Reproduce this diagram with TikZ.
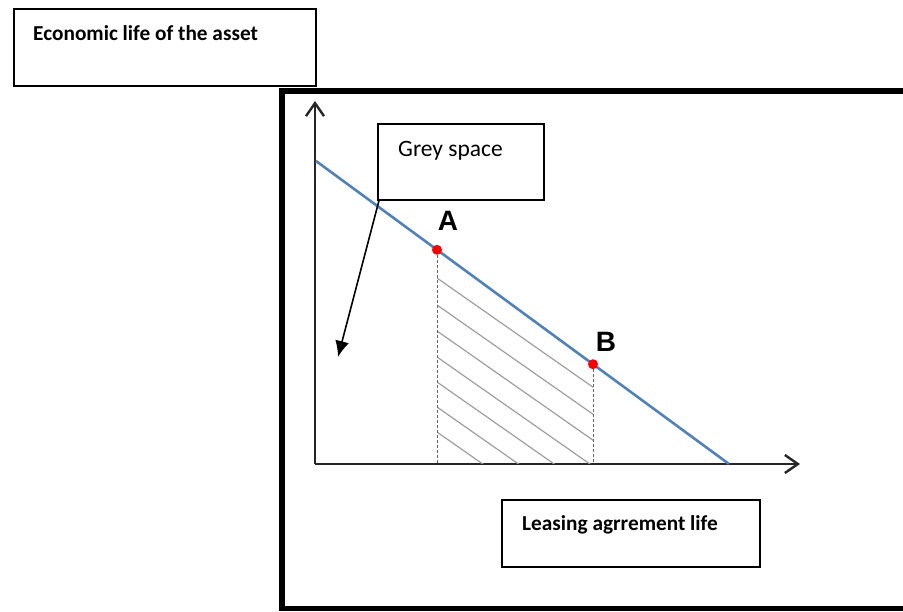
\documentclass[tikz,border=0pt]{standalone}
\usepackage{fontspec}
\setmainfont{Carlito}
\newfontfamily\arialfont{Liberation Sans}
\usetikzlibrary{arrows.meta}
\definecolor{lineblue}{RGB}{79,129,189}
\definecolor{hatchgray}{RGB}{160,160,160}
\begin{document}
\begin{tikzpicture}[x=1pt,y=-1pt,
  box/.style={draw=black, line width=1.5pt, rectangle, inner sep=0pt, anchor=north west},
  boldlabel/.style={font=\fontsize{21.3}{24}\selectfont\bfseries, anchor=base west, inner sep=0pt},
  plainlabel/.style={font=\fontsize{23.5}{26}\selectfont, anchor=base west, inner sep=0pt},
  axisline/.style={line width=2.4pt, draw=black!85, -{Straight Barb[length=13pt,width=18pt]}},
  hatch/.style={draw=hatchgray, line width=1.2pt},
  dropline/.style={draw=black!60, line width=0.9pt, dash pattern=on 3pt off 2pt},
  letter/.style={font=\arialfont\fontsize{28}{30}\selectfont\bfseries, anchor=base, inner sep=0pt},
  dot/.style={circle, fill=red, inner sep=0pt, minimum size=10pt}
]
\useasboundingbox (0,0) rectangle (903,611);
% outer frame (right side outside the picture)
\draw[line width=5.5pt, line join=miter] (915,91) -- (282,91) -- (282,608.5) -- (915,608.5);

% boxes
\node[box, minimum width=302pt, minimum height=77pt] (econ) at (13,8) {};
\node[boldlabel] (econtext) at (33,40) {Economic life of the asset};

\node[box, minimum width=166pt, minimum height=76pt] (grey) at (377,123) {};
\node[plainlabel] (greytext) at (398,156) {Grey space};

\node[box, minimum width=258pt, minimum height=67pt] (lease) at (501,499) {};
\node[boldlabel] (leasetext) at (522,530) {Leasing agrrement life};

% axes
\coordinate (O) at (315,464);
\coordinate (Ytop) at (315,101);
\coordinate (Xend) at (800,464);
\draw[axisline] (O) -- (Ytop);
\draw[axisline] (O) -- (Xend);

% hatch
\begin{scope}
\clip (437,249) rectangle (593,463);
\foreach \yy in {278,305,331,357,382,407,432}
  \draw[hatch] (437,\yy) -- ++(240,168);
\end{scope}

% line and points
\coordinate (L1) at (316,161);
\coordinate (L2) at (729,464);
\coordinate (Apt) at (437,249.8);
\coordinate (Bpt) at (593,364.2);
\coordinate (Abase) at (437,464);
\coordinate (Bbase) at (593,464);
\draw[dropline] (Apt) -- (Abase);
\draw[dropline] (Bpt) -- (Bbase);
\draw[lineblue, line width=2.6pt] (L1) -- (L2);
\node[dot] (A) at (Apt) {};
\node[dot] (B) at (Bpt) {};
\node[letter] (Alab) at (448,230) {A};
\node[letter] (Blab) at (606,351) {B};

% arrow from grey space box
\coordinate (gs) at ([xshift=2pt]grey.south west);
\coordinate (tip) at (338,357);
\draw[line width=1.6pt, -{Latex[length=16pt,width=14pt]}] (gs) -- (tip);
\end{tikzpicture}
\end{document}
